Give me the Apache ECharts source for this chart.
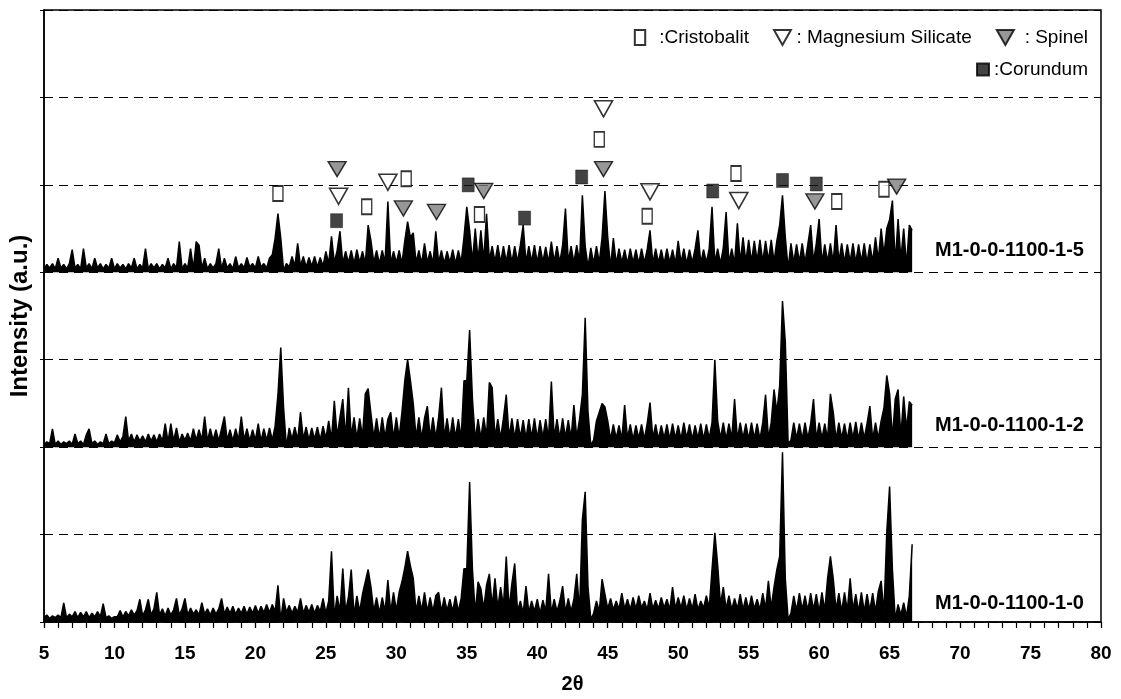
<!DOCTYPE html>
<html>
<head>
<meta charset="utf-8">
<title>XRD M1-0-0-1100</title>
<style>
  html, body { margin: 0; padding: 0; background: #fff; }
  #main { width: 1121px; height: 699px; }
</style>
</head>
<body>
<div id="main"></div>
<script src="https://cdn.jsdelivr.net/npm/echarts@6/dist/echarts.min.js"></script>
<script>
// scan: 2theta from 5.0 in steps of 0.2 deg (10 values per 2 deg)
var twoThetaStart = 5.0;
var twoThetaStep = 0.2;

// intensities, 1 grid division = 100 a.u., each trace relative to its own baseline
var i_1100_1_0 = [
  5,8,4,7,5,8,5,22,5,9,        6,12,5,11,6,12,5,10,6,12,     6,21,5,7,4,6,6,13,6,12,
  7,14,8,13,26,7,14,26,8,15,   34,8,15,7,16,8,14,27,8,15,    27,8,16,9,14,8,22,9,15,8,
  16,9,15,27,9,17,10,18,9,16,  10,18,9,17,10,19,10,18,11,20, 11,20,12,42,2,27,11,19,10,18,
  11,27,10,19,11,20,10,19,12,27, 10,24,81,6,30,12,61,12,28,60, 8,30,12,32,46,60,40,12,28,10,
  28,12,48,11,34,13,34,46,62,81, 64,50,12,30,13,34,12,28,12,30, 34,12,28,13,26,12,30,12,27,61,
  61,160,60,10,46,38,15,42,55,18, 50,16,40,18,75,15,44,67,12,24, 10,41,11,24,12,26,10,25,12,55,
  10,26,12,24,41,11,27,12,26,55, 12,117,149,40,3,10,24,12,49,32, 15,27,14,24,15,33,15,26,14,28,
  15,30,16,24,14,33,15,25,15,28, 16,26,14,40,15,28,16,30,14,27, 15,32,14,24,16,30,16,60,102,65,
  20,40,15,30,14,27,15,32,14,28, 14,30,15,26,14,33,15,47,16,40, 60,75,194,49,3,10,30,13,33,14,
  30,13,33,14,32,12,34,13,50,75, 50,14,33,12,34,13,50,14,32,12, 34,12,32,13,33,12,35,47,10,103,
  155,60,3,20,8,22,6,30,89
];
var i_1100_1_2 = [
  3,6,4,21,3,7,3,6,4,7,        3,15,4,7,3,14,21,4,7,3,       6,4,15,4,7,5,14,6,12,35,
  7,15,6,14,7,13,6,15,7,14,    6,15,7,27,6,27,7,22,6,15,     8,16,7,21,8,20,8,35,7,21,
  8,20,7,21,35,8,20,7,21,8,    35,8,21,7,20,8,27,7,21,8,     22,8,24,60,114,45,0,22,9,23,
  8,40,9,23,8,22,9,23,8,24,    10,30,9,53,12,34,55,10,68,12, 34,10,33,12,61,67,38,11,33,10,
  34,11,32,40,10,34,11,40,76,100, 76,50,11,34,10,33,47,11,34,10, 34,68,11,33,10,34,11,32,10,76,
  76,134,55,8,32,10,34,12,74,68, 11,32,10,33,60,11,33,10,32,11, 31,10,32,11,33,10,31,11,32,10,
  75,11,32,10,33,11,31,10,48,11, 32,60,148,40,2,8,30,40,50,46, 30,9,26,10,25,9,48,10,26,9,
  25,10,26,9,27,51,10,26,9,25,  10,26,9,27,10,25,9,28,10,26,  9,25,10,27,9,26,10,28,100,30,
  10,28,9,27,10,55,9,28,10,27,  9,28,10,27,9,28,60,10,28,66,  40,70,167,120,4,8,28,10,27,9,
  28,10,27,55,9,28,10,27,9,61,  40,9,28,10,27,9,28,10,29,9,   28,10,27,47,9,28,10,30,45,82,
  61,10,55,66,12,58,20,52,48
];
var i_1100_1_5 = [
  4,9,5,10,4,16,5,9,4,10,      26,5,9,4,27,5,10,4,16,5,      10,4,9,5,16,4,10,5,9,4,
  10,5,16,4,9,5,27,4,10,5,     10,4,9,5,16,4,10,5,35,4,      10,5,27,4,35,31,5,16,4,10,
  5,10,27,4,16,5,10,4,18,5,    10,5,17,6,10,5,18,6,10,5,     16,20,39,67,39,2,10,6,18,7,
  33,7,18,6,17,7,18,6,17,7,    24,10,41,11,25,47,10,24,11,25, 10,26,11,24,10,54,36,11,25,10,
  25,11,81,10,24,11,25,10,36,58, 40,45,11,25,10,33,11,24,10,47, 11,25,10,24,11,26,10,25,11,40,
  75,48,12,50,14,48,13,67,14,30, 12,31,11,30,12,31,11,30,12,31, 54,11,30,12,31,11,30,12,29,11,
  35,12,30,11,31,73,12,30,11,31, 12,88,30,6,28,10,30,11,40,93, 40,6,39,10,27,11,26,10,27,11,
  26,10,27,11,26,48,10,27,11,26, 10,27,11,26,10,36,11,27,10,26, 11,27,48,10,26,11,27,75,11,27,
  10,28,69,11,27,10,56,11,40,12, 37,12,36,13,37,12,36,13,37,12, 36,54,88,40,4,33,11,32,12,33,
  11,32,54,12,33,61,11,32,12,33, 11,54,12,33,11,32,12,33,11,32, 12,33,11,32,12,40,14,50,20,50,
  60,82,10,61,15,50,8,54,48
];

var traceNames = ['M1-0-0-1100-1-0', 'M1-0-0-1100-1-2', 'M1-0-0-1100-1-5'];
var traceOffsets = [0, 200, 400];

// phase marks [2theta, height]
var cristobalit = [[21.6,490],[27.9,475],[30.7,507],[35.9,466],[44.4,552],[47.8,464],[54.1,513],[61.25,481],[64.6,495]];
var magnesiumSilicate = [[25.9,487],[29.4,503],[44.7,587],[48.0,492],[54.3,482]];
var spinel = [[25.8,518],[30.5,473],[32.85,469],[36.2,493],[44.7,518],[59.7,481],[65.5,498]];
var corundum = [[25.76,459],[35.1,500],[39.1,462],[43.15,509],[52.45,493],[57.4,505],[59.8,501]];

var legendText = {
  'Cristobalit': ' :Cristobalit',
  'Magnesium Silicate': ': Magnesium Silicate',
  'Spinel': ' : Spinel',
  'Corundum': ':Corundum'
};

var FONT = 'Liberation Sans, Arial, sans-serif';

function toPoints(arr, off) {
  var out = [];
  for (var i = 0; i < arr.length; i++) {
    out.push([+(twoThetaStart + twoThetaStep * i).toFixed(1), arr[i] + off]);
  }
  return out;
}

var traces = [i_1100_1_0, i_1100_1_2, i_1100_1_5];
var series = [];
traces.forEach(function (t, k) {
  series.push({
    name: traceNames[k],
    type: 'line',
    data: toPoints(t, traceOffsets[k]),
    showSymbol: false,
    symbol: 'none',
    lineStyle: { color: '#000', width: 1.5 },
    // noise band is drawn solid down to the trace's own baseline
    areaStyle: { color: '#000', opacity: 1, origin: traceOffsets[k] },
    z: 3
  });
});

var markStyle = { color: '#fff', borderColor: '#000', borderWidth: 1.6 };
series.push({
  name: 'Cristobalit', type: 'scatter', data: cristobalit,
  symbol: 'rect', symbolSize: [10, 15], itemStyle: markStyle, z: 5
});
series.push({
  name: 'Magnesium Silicate', type: 'scatter', data: magnesiumSilicate,
  symbol: 'triangle', symbolRotate: 180, symbolSize: [18, 16], itemStyle: markStyle, z: 5
});
series.push({
  name: 'Spinel', type: 'scatter', data: spinel,
  symbol: 'triangle', symbolRotate: 180, symbolSize: [18, 15],
  itemStyle: { color: '#7d7d7d', borderColor: '#000', borderWidth: 1.4 }, z: 5
});
series.push({
  name: 'Corundum', type: 'scatter', data: corundum,
  symbol: 'rect', symbolSize: [12, 14],
  itemStyle: { color: '#141414', borderColor: '#000', borderWidth: 0.5 }, z: 5
});

var labelY = [603, 425, 250];
var graphics = traceNames.map(function (n, k) {
  return {
    type: 'text', x: 935, y: labelY[k], z: 10,
    style: { text: n, font: 'bold 20px ' + FONT, fill: '#000', verticalAlign: 'middle' }
  };
});

var myChart = echarts.init(document.getElementById('main'));
var option = {
  animation: false,
  backgroundColor: '#fff',
  grid: { left: 44, right: 20, top: 10, bottom: 73, show: true, borderColor: '#000', borderWidth: 1.5 },
  legend: [{
    data: [
      { name: 'Cristobalit', icon: 'path://M0,0h9v13h-9z' },
      { name: 'Magnesium Silicate', icon: 'path://M0,0h18l-9,16z' },
      { name: 'Spinel', icon: 'path://M0,0h16l-8,14z' }
    ],
    right: 28, top: 23, itemWidth: 18, itemHeight: 15, itemGap: 24,
    formatter: function (n) { return legendText[n]; },
    textStyle: { fontSize: 19, color: '#000', fontFamily: FONT }
  }, {
    data: [{ name: 'Corundum', icon: 'rect' }],
    right: 28, top: 55, itemWidth: 12, itemHeight: 12,
    formatter: function (n) { return legendText[n]; },
    textStyle: { fontSize: 19, color: '#000', fontFamily: FONT }
  }],
  xAxis: {
    type: 'value', min: 5, max: 80, interval: 5,
    name: '2θ', nameLocation: 'middle', nameGap: 52,
    nameTextStyle: { fontSize: 20, fontWeight: 'bold', color: '#000', fontFamily: FONT },
    axisLine: { onZero: false, lineStyle: { color: '#000', width: 1.5 } },
    axisTick: { length: 6, lineStyle: { color: '#000', width: 1.3 } },
    minorTick: { show: true, splitNumber: 5, length: 6, lineStyle: { color: '#000', width: 1.2 } },
    splitLine: { show: false },
    axisLabel: { color: '#000', fontSize: 19, fontWeight: 'bold', margin: 22, fontFamily: FONT }
  },
  yAxis: {
    type: 'value', min: 0, max: 700, interval: 100,
    name: 'Intensity (a.u.)', nameLocation: 'middle', nameGap: 12,
    nameTextStyle: { fontSize: 24, fontWeight: 'bold', color: '#000', fontFamily: FONT },
    axisLine: { show: true, lineStyle: { color: '#000', width: 1.5 } },
    axisTick: { show: true, length: 4, lineStyle: { color: '#000' } },
    axisLabel: { show: false },
    splitLine: { show: true, lineStyle: { color: '#000', width: 1.2, type: [9, 6] } }
  },
  graphic: graphics,
  series: series
};
myChart.setOption(option);
</script>
</body>
</html>
